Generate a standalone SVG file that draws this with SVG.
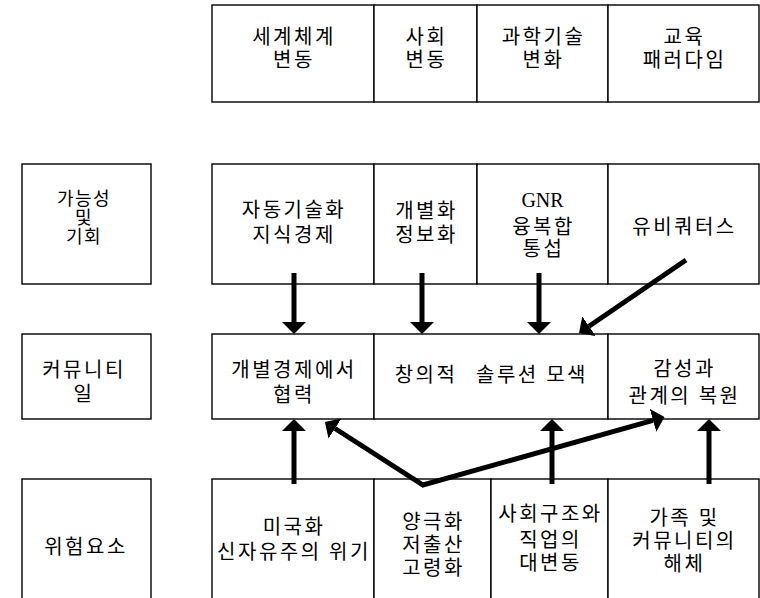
<svg xmlns="http://www.w3.org/2000/svg" width="760" height="598" viewBox="0 0 760 598">
<style>
.box{fill:#fff;stroke:#000;stroke-width:1.4}
.t{font-family:"Liberation Serif","Noto Sans CJK KR",serif;font-size:20px;fill:#000;text-anchor:middle;letter-spacing:2.5px}
.s{font-size:18px;letter-spacing:1.5px}
.l{letter-spacing:0}
.arr{fill:none;stroke:#000;stroke-width:5;stroke-linejoin:miter}
</style>
<defs>
<marker id="ah" viewBox="0 0 12 24" markerUnits="userSpaceOnUse" markerWidth="12" markerHeight="24" refX="0" refY="12" orient="auto-start-reverse">
<path d="M0,0 L12,12 L0,24 Z" fill="#000"/>
</marker>
</defs>
<rect width="760" height="598" fill="#fff"/>

<!-- top row -->
<g id="n-world"><rect class="box" x="212" y="5" width="162" height="97"/><text class="t" x="294" y="44">세계체계</text><text class="t" x="294" y="67">변동</text></g>
<g id="n-society"><rect class="box" x="374" y="5" width="103" height="97"/><text class="t" x="426.5" y="44">사회</text><text class="t" x="426.5" y="67">변동</text></g>
<g id="n-science"><rect class="box" x="477" y="5" width="131" height="97"/><text class="t" x="543.5" y="44">과학기술</text><text class="t" x="543.5" y="67">변화</text></g>
<g id="n-edu"><rect class="box" x="608" y="5" width="151" height="97"/><text class="t" x="684.5" y="44">교육</text><text class="t" x="684.5" y="67">패러다임</text></g>

<!-- row 2 -->
<g id="n-opportunity"><rect class="box" x="22" y="164" width="129" height="120"/><text class="t s" x="84" y="205">가능성</text><text class="t s" x="84" y="224">및</text><text class="t s" x="84" y="243">기회</text></g>
<g id="n-auto"><rect class="box" x="212" y="164" width="162" height="120"/><text class="t" x="294" y="217">자동기술화</text><text class="t" x="294" y="242">지식경제</text></g>
<g id="n-indiv"><rect class="box" x="374" y="164" width="103" height="120"/><text class="t" x="426.5" y="218">개별화</text><text class="t" x="426.5" y="242">정보화</text></g>
<g id="n-gnr"><rect class="box" x="477" y="164" width="131" height="120"/><text class="t l" x="542.5" y="207">GNR</text><text class="t" x="543.5" y="234">융복합</text><text class="t" x="543.5" y="256">통섭</text></g>
<g id="n-ubi"><rect class="box" x="608" y="164" width="151" height="120"/><text class="t" x="684.5" y="234">유비쿼터스</text></g>

<!-- row 3 -->
<g id="n-community"><rect class="box" x="22" y="334" width="129" height="85"/><text class="t" x="84" y="377">커뮤니티</text><text class="t" x="84" y="401">일</text></g>
<g id="n-coop"><rect class="box" x="212" y="334" width="162" height="85"/><text class="t" x="294" y="377">개별경제에서</text><text class="t" x="294" y="402">협력</text></g>
<g id="n-creative"><rect class="box" x="374" y="334" width="234" height="85"/><text class="t" x="426" y="382">창의적</text><text class="t" x="532" y="382">솔루션 모색</text></g>
<g id="n-emotion"><rect class="box" x="608" y="334" width="151" height="85"/><text class="t" x="684.5" y="376">감성과</text><text class="t" x="684.5" y="403">관계의 복원</text></g>

<!-- row 4 -->
<g id="n-risk"><rect class="box" x="22" y="479" width="129" height="130"/><text class="t" x="86" y="554">위험요소</text></g>
<g id="n-america"><rect class="box" x="212" y="479" width="162" height="130"/><text class="t" x="294" y="534">미국화</text><text class="t" x="294" y="559">신자유주의 위기</text></g>
<g id="n-polar"><rect class="box" x="374" y="479" width="117" height="130"/><text class="t" x="433.5" y="529">양극화</text><text class="t" x="433.5" y="552">저출산</text><text class="t" x="433.5" y="575">고령화</text></g>
<g id="n-struct"><rect class="box" x="491" y="479" width="117" height="130"/><text class="t" x="550.5" y="521">사회구조와</text><text class="t" x="550.5" y="547">직업의</text><text class="t" x="550.5" y="570">대변동</text></g>
<g id="n-family"><rect class="box" x="608" y="479" width="151" height="130"/><text class="t" x="684.5" y="525">가족 및</text><text class="t" x="684.5" y="548">커뮤니티의</text><text class="t" x="684.5" y="571">해체</text></g>

<!-- connectors -->
<g id="connectors">
<line class="arr" x1="294" y1="273" x2="294" y2="322" marker-end="url(#ah)"/>
<line class="arr" x1="422" y1="273" x2="422" y2="322" marker-end="url(#ah)"/>
<line class="arr" x1="539" y1="273" x2="539" y2="322" marker-end="url(#ah)"/>
<line class="arr" x1="686" y1="260" x2="589" y2="326.2" marker-end="url(#ah)"/>
<line class="arr" x1="294" y1="484" x2="294" y2="431" marker-end="url(#ah)"/>
<line class="arr" x1="552" y1="484" x2="552" y2="431" marker-end="url(#ah)"/>
<line class="arr" x1="709" y1="484" x2="709" y2="431" marker-end="url(#ah)"/>
<polyline class="arr" points="335,428.5 423,485 653,420.3" marker-start="url(#ah)" marker-end="url(#ah)"/>
</g>
</svg>
